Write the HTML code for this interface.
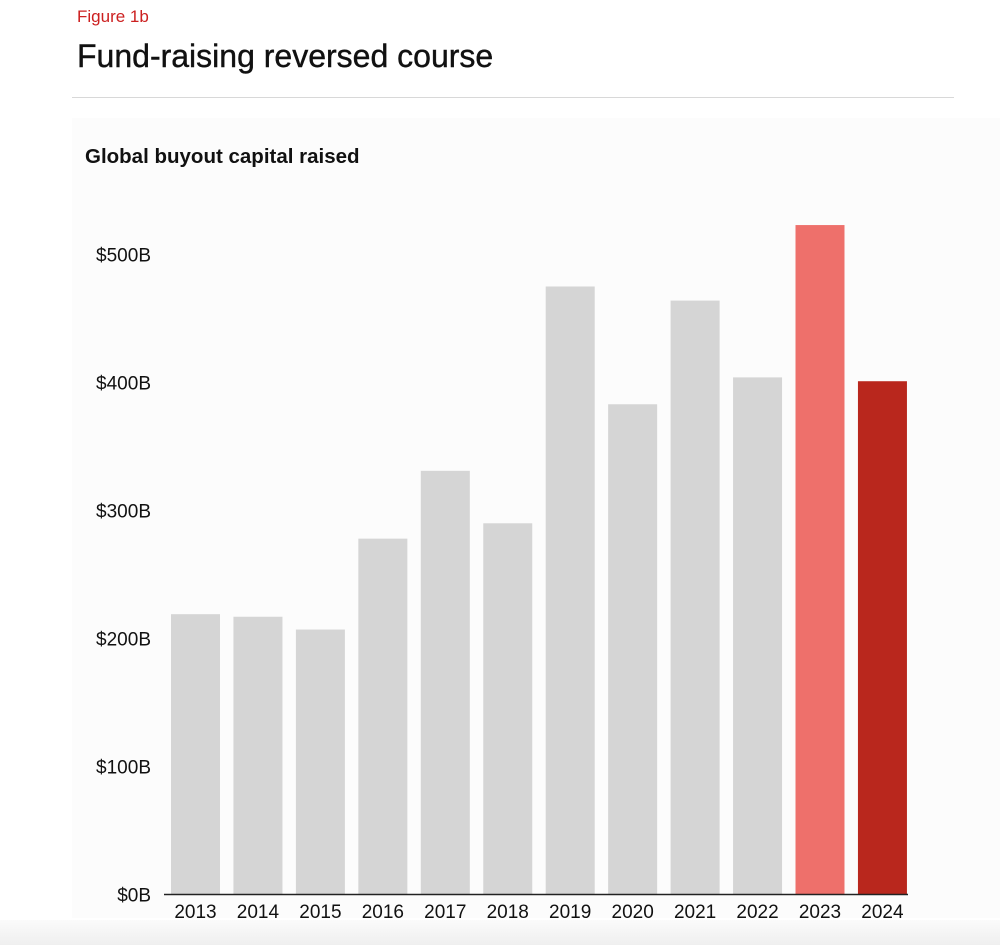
<!DOCTYPE html>
<html><head><meta charset="utf-8"><style>
body{margin:0;width:1000px;height:945px;background:#fff;font-family:"Liberation Sans",sans-serif;overflow:hidden;position:relative}
.fig{position:absolute;left:77px;top:7px;color:#cc2020;font-size:17px}
.title{position:absolute;left:77px;top:38px;font-size:32px;color:#111;-webkit-text-stroke:0.4px #111}
.rule{position:absolute;left:72px;top:97px;width:882px;height:1px;background:#d8d8d8}
.panel{position:absolute;left:72px;top:118px;width:928px;height:800px;background:#fcfcfc}
.sub{position:absolute;left:85px;top:145px;font-size:20.5px;font-weight:bold;color:#111}
.foot{position:absolute;left:0;top:920px;width:1000px;height:25px;background:linear-gradient(#fbfbfb,#efefef)}
svg{position:absolute;left:0;top:0}
</style></head><body>
<div class="panel"></div>
<div class="foot"></div>
<div class="fig">Figure 1b</div>
<div class="title">Fund-raising reversed course</div>
<div class="rule"></div>
<div class="sub">Global buyout capital raised</div>
<svg id="c" width="1000" height="945"></svg>
<script>
const years=["2013","2014","2015","2016","2017","2018","2019","2020","2021","2022","2023","2024"];
const values=[219,217,207,278,331,290,475,383,464,404,523,401];
const ticks=[0,100,200,300,400,500];
const tickLabels=["$0B","$100B","$200B","$300B","$400B","$500B"];
const NS="http://www.w3.org/2000/svg",svg=document.getElementById('c');
const y=v=>894.5-v*1.28, x=i=>171+i*62.45, bw=49;
function mk(t,a){const e=document.createElementNS(NS,t);for(const k in a)e.setAttribute(k,a[k]);svg.appendChild(e);return e;}
ticks.forEach((t,i)=>{const e=mk('text',{x:151,y:y(t)+7,'text-anchor':'end','font-size':19,fill:'#111','font-family':'Liberation Sans,sans-serif'});e.textContent=tickLabels[i];

});
values.forEach((v,i)=>{const col=i==10?'#ee706b':i==11?'#b9271d':'#d5d5d5';
const r=mk('rect',{x:x(i),y:y(v),width:bw,height:894.5-y(v),fill:col});


const t=mk('text',{x:x(i)+bw/2,y:918,'text-anchor':'middle','font-size':19,fill:'#111','font-family':'Liberation Sans,sans-serif'});t.textContent=years[i];

});
const l=mk('line',{x1:164,x2:908,y1:894.5,y2:894.5,stroke:'#222','stroke-width':1.5});


</script>
</body></html>
